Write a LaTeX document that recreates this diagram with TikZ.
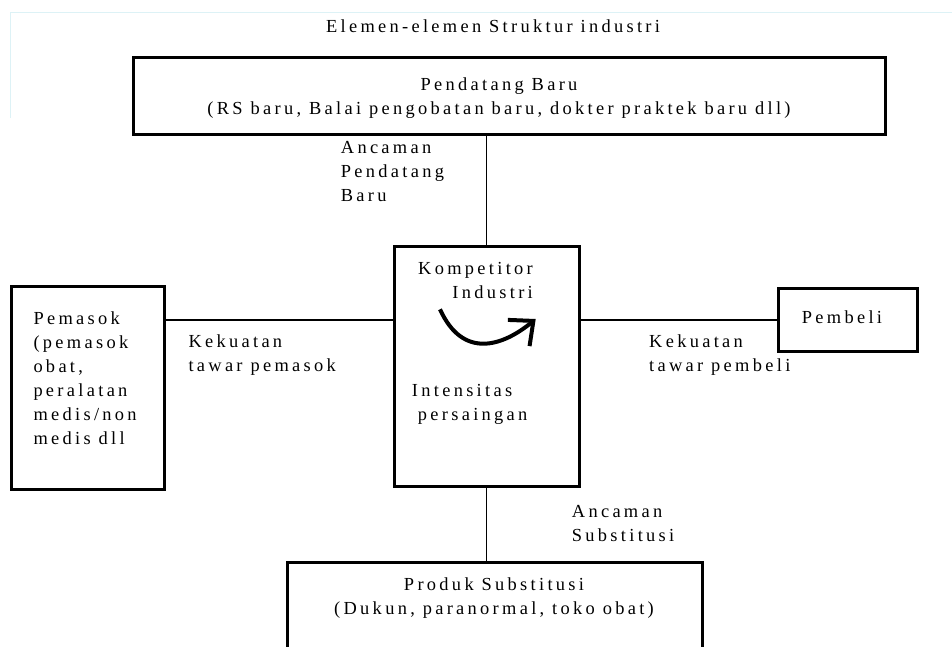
\documentclass[tikz,border=0pt]{standalone}
\usepackage{fontspec}
\setmainfont[LetterSpace=18]{Liberation Serif}
\usepackage{tikz}
\usetikzlibrary{arrows.meta}
\definecolor{faintcyan}{HTML}{DDF2F6}
\tikzset{box/.style={draw,line width=3pt,rectangle,inner sep=0pt},
link/.style={line width=1.2pt},
turn/.style={line width=4pt,-{Straight Barb[length=19pt,width=34pt]}},
txt/.style={inner sep=0pt,font=\fontsize{18.4}{24}\selectfont}}

\begin{document}
\begin{tikzpicture}[x=1pt,y=-1pt]
\useasboundingbox (0,0) rectangle (952,646);
\clip (0,0) rectangle (952,646);
\draw[faintcyan,line width=1pt] (10,118)--(10,12)--(952,12);
\node[txt,anchor=base] (judul) at (493,32) {Elemen-elemen Struktur industri};
\node[box,minimum width=752pt,minimum height=77pt] (baru) at (509,95.5) {};
\node[box,minimum width=153pt,minimum height=203pt] (pemasok) at (88,388.3) {};
\node[box,minimum width=185pt,minimum height=240pt] (komp) at (486.5,366) {};
\node[box,minimum width=139pt,minimum height=63pt] (pembeli) at (847.5,320) {};
\node[box,minimum width=415pt,minimum height=120pt] (subst) at (494.5,622) {};
\draw[link] (komp.north)--(komp.north|-baru.south);
\draw[link] (komp.south)--(komp.south|-subst.north);
\draw[link] (pembeli.west)--(pembeli.west-|komp.east);
\draw[link] (pembeli.west-|komp.west)--(pembeli.west-|pemasok.east);
\draw[turn] (440,309.3) .. controls (463,360) and (503,346) .. (535.7,319);
\node[txt,align=center,anchor=north] (barutxt) at (499,77.4) {Pendatang Baru\\(RS baru, Balai pengobatan baru, dokter praktek baru dll)};
\node[txt,align=left,anchor=north west] (ancbaru) at (340.7,141.2) {Ancaman\\Pendatang\\Baru};
\node[txt,align=right,anchor=north east] (komptxt) at (533,261.9) {Kompetitor\\Industri};
\node[txt,align=left,anchor=north west] (intens) at (411.7,383.9) {Intensitas\\\hspace*{6pt}persaingan};
\node[txt,align=left,anchor=north west] (pemasoktxt) at (33.3,311.2) {Pemasok\\(pemasok\\obat,\\peralatan\\medis/non\\medis dll};
\node[txt,align=left,anchor=north west] (tawarpm) at (188.3,334.9) {Kekuatan\\tawar pemasok};
\node[txt,anchor=base west] (pembelitxt) at (801.7,323.3) {Pembeli};
\node[txt,align=left,anchor=north west] (tawarpb) at (649,334.9) {Kekuatan\\tawar pembeli};
\node[txt,align=left,anchor=north west] (ancsubst) at (571.7,505.2) {Ancaman\\Substitusi};
\node[txt,align=center,anchor=north] (substtxt) at (494,577.6) {Produk Substitusi\\(Dukun, paranormal, toko obat)};
\end{tikzpicture}
\end{document}
